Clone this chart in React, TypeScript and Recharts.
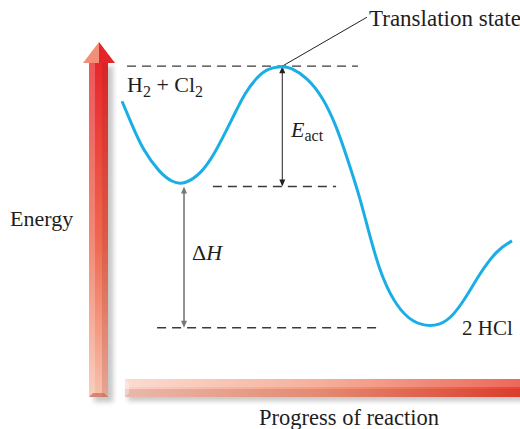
import { LineChart, Line, XAxis, YAxis, ReferenceLine } from "recharts";

// reaction coordinate (0..100) and energy (product level = 0, transition state = 100)
const progress = [0, 2.8, 5.4, 9.7, 12.8, 15.9, 20.5, 23.8, 26.4, 29, 31.5, 34.6, 37.4, 41, 43.1, 47.4, 51.5, 55.1, 57.9, 61, 64.1, 66.9, 70.5, 74.6, 79, 83.3, 87.4, 91.8, 96.2, 100];
const energy = [86.6, 76.7, 67.9, 59.2, 55.7, 54.6, 59.2, 66.8, 74.4, 82.1, 89.7, 95.8, 99.2, 100, 99.6, 95.8, 88.2, 76.7, 64.1, 50, 31.7, 18.3, 8, 1.9, 0.4, 1.9, 9.5, 21, 29.8, 33.2];

const levelNames = ["Transition", "Reactants", "Products"];
const levelEnergy = [100, 54, 0];
const levelFrom = [1.3, 23.3, 9];
const levelTo = [60.5, 54.9, 66.7];

const peakX = 41.1;
const reactMinX = 15.9;
const leaderEnd = { x: 62.8, y: 118.7 };

const data = progress.map((p, i) => ({ p, e: energy[i] }));

const SERIF = "'Liberation Serif', 'Times New Roman', serif";

function doubleArrow(color: string, width: number) {
  return (props: any) => {
    const { x1, y1, y2 } = props;
    const top = Math.min(y1, y2);
    const bot = Math.max(y1, y2);
    const h = 7;
    const w = 3;
    return (
      <g>
        <line x1={x1} y1={top + 3} x2={x1} y2={bot - 3} stroke={color} strokeWidth={width} />
        <path d={`M${x1},${top} L${x1 - w},${top + h} L${x1 + w},${top + h} Z`} fill={color} />
        <path d={`M${x1},${bot} L${x1 - w},${bot - h} L${x1 + w},${bot - h} Z`} fill={color} />
      </g>
    );
  };
}

function Decor() {
  return (
    <svg width={520} height={429} style={{ position: "absolute", left: 0, top: 0 }}>
      <defs>
        <linearGradient id="vShaft" x1="0" y1="0" x2="0" y2="1">
          <stop offset="0%" stopColor="#e8262a" />
          <stop offset="55%" stopColor="#ef6a52" />
          <stop offset="100%" stopColor="#f7c2ac" />
        </linearGradient>
        <linearGradient id="hShaft" x1="0" y1="0" x2="1" y2="0">
          <stop offset="0%" stopColor="#fad3c5" />
          <stop offset="50%" stopColor="#f39a80" />
          <stop offset="100%" stopColor="#e8412f" />
        </linearGradient>
        <filter id="blur" x="-20%" y="-20%" width="140%" height="140%">
          <feGaussianBlur stdDeviation="2.5" />
        </filter>
      </defs>
      {/* shadows */}
      <rect x={94} y={66} width={19} height={336} fill="#999" opacity={0.55} filter="url(#blur)" />
      <rect x={128} y={384} width={400} height={17} fill="#999" opacity={0.55} filter="url(#blur)" />
      {/* vertical arrow */}
      <rect x={89} y={61} width={19} height={336} fill="url(#vShaft)" />
      <rect x={89} y={61} width={6} height={336} fill="#fff" opacity={0.22} />
      <rect x={102} y={61} width={6} height={336} fill="#8a1a10" opacity={0.16} />
      <path d="M89,397 L108,397 L104,393 L93,393 Z" fill="#c86a58" opacity={0.7} />
      <path d="M83,63 L99,42 L99,63 Z" fill="#f28f78" />
      <path d="M99,42 L115,63 L99,63 Z" fill="#e3252a" />
      {/* horizontal arrow */}
      <rect x={125} y={379} width={400} height={18} fill="url(#hShaft)" />
      <rect x={125} y={379} width={400} height={8} fill="#fff" opacity={0.2} />
      <rect x={125} y={389} width={400} height={8} fill="#8a1a10" opacity={0.14} />
      <path d="M125,379 L129,383 L129,393 L125,397 Z" fill="#fff" opacity={0.35} />

      <g fontFamily={SERIF} fill="#1e1e1e">
        <text x={10} y={226} fontSize={22}>Energy</text>
        <text x={349} y={425} fontSize={22.5} textAnchor="middle">Progress of reaction</text>
        <text x={369} y={26} fontSize={23}>Translation state</text>
        <text x={127} y={92} fontSize={22}>
          H<tspan fontSize={16} dy={5}>2</tspan>
          <tspan dy={-5}> + Cl</tspan>
          <tspan fontSize={16} dy={5}>2</tspan>
        </text>
        <text x={462} y={335} fontSize={21}>2 HCl</text>
        <text x={291} y={137} fontSize={22}>
          <tspan fontStyle="italic">E</tspan>
          <tspan fontSize={16} dy={4}>act</tspan>
        </text>
        <text x={192} y={260} fontSize={22}>
          Δ<tspan fontStyle="italic">H</tspan>
        </text>
      </g>
    </svg>
  );
}

export default function App() {
  return (
    <div style={{ position: "absolute", left: 0, top: 0, width: 520, height: 429, background: "#fff" }}>
      <Decor />
      <div style={{ position: "absolute", left: 0, top: 0 }}>
        <LineChart width={520} height={429} data={data} margin={{ top: 40, right: 8, bottom: 62, left: 122 }}>
          <XAxis dataKey="p" type="number" domain={[0, 100]} hide />
          <YAxis type="number" domain={[-15, 110]} hide />
          {levelNames.map((n, i) => (
            <ReferenceLine
              key={n}
              segment={[
                { x: levelFrom[i], y: levelEnergy[i] },
                { x: levelTo[i], y: levelEnergy[i] },
              ]}
              stroke="#3a3a3a"
              strokeWidth={1.3}
              strokeDasharray="9 6"
            />
          ))}
          <ReferenceLine
            segment={[
              { x: peakX, y: levelEnergy[0] },
              { x: peakX, y: levelEnergy[1] },
            ]}
            shape={doubleArrow("#222", 1)}
          />
          <ReferenceLine
            segment={[
              { x: reactMinX, y: levelEnergy[1] },
              { x: reactMinX, y: levelEnergy[2] },
            ]}
            shape={doubleArrow("#777", 1.6)}
          />
          <ReferenceLine
            segment={[
              { x: peakX, y: levelEnergy[0] },
              { x: leaderEnd.x, y: leaderEnd.y },
            ]}
            ifOverflow="visible"
            stroke="#222"
            strokeWidth={1}
          />
          <Line
            type="basis"
            dataKey="e"
            stroke="#1aaee6"
            strokeWidth={3}
            dot={false}
            isAnimationActive={false}
          />
        </LineChart>
      </div>
    </div>
  );
}
